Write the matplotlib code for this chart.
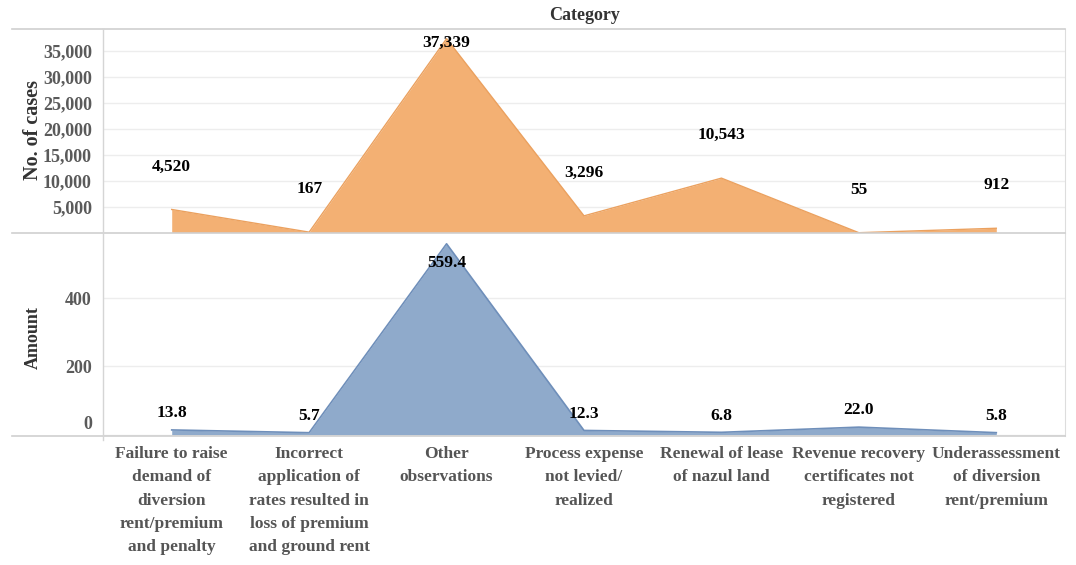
import numpy as np
import matplotlib.pyplot as plt
from matplotlib.lines import Line2D
from matplotlib.transforms import ScaledTranslation

# data
categories = [
    "Failure to raise\ndemand of\ndiversion\nrent/premium\nand penalty",
    "Incorrect\napplication of\nrates resulted in\nloss of premium\nand ground rent",
    "Other\nobservations",
    "Process expense\nnot levied/\nrealized",
    "Renewal of lease\nof nazul land",
    "Revenue recovery\ncertificates not\nregistered",
    "Underassessment\nof diversion\nrent/premium",
]
cases = [4520, 167, 37339, 3296, 10543, 55, 912]
amount = [13.8, 5.7, 559.4, 12.3, 6.8, 22.0, 5.8]
cases_ticks = [5000, 10000, 15000, 20000, 25000, 30000, 35000]
amount_ticks = [0, 200, 400]

orange = "#F3B073"
blue = "#8FAACB"
serif = "Liberation Serif"
W, H = 1076, 565

fig = plt.figure(figsize=(W / 100, H / 100), dpi=100)

def fx(px):
    return px / W

def fy(py):
    return 1 - py / H

left, right = fx(103), fx(1065)
ax1 = fig.add_axes([left, fy(233), right - left, fy(29) - fy(233)])
ax2 = fig.add_axes([left, fy(436), right - left, fy(233) - fy(436)])

x = np.arange(len(categories))

# top panel: No. of cases
ax1.fill_between(x, 0, cases, color=orange, lw=0, zorder=2)
ax1.plot(x, cases, color="#EBA15F", lw=1, zorder=3)
ax1.set_ylim(0, 39200)
ax1.set_yticks(cases_ticks)
ax1.set_yticklabels([f"{t:,}" for t in cases_ticks])
for xi, v in zip(x, cases):
    if v > 0.8 * ax1.get_ylim()[1]:
        off = -3
    else:
        off = 31
    ax1.annotate(f"{v:,}", (xi, v), xytext=(0, off), textcoords="offset points",
                 ha="center", va="center", fontsize=12.5, fontweight="bold",
                 family=serif, color="black", zorder=5, annotation_clip=False)

# bottom panel: Amount
ax2.fill_between(x, 0, amount, color=blue, lw=0, zorder=2)
ax2.plot(x, amount, color="#6F8FBA", lw=1.2, zorder=3)
ax2.set_ylim(-4, 591)
ax2.set_yticks(amount_ticks)
for xi, v in zip(x, amount):
    if v > 0.8 * ax2.get_ylim()[1]:
        off = -14
    else:
        off = 12
    ax2.annotate(f"{v:.1f}", (xi, v), xytext=(0, off), textcoords="offset points",
                 ha="center", va="center", fontsize=12.5, fontweight="bold",
                 family=serif, color="black", zorder=5)

for ax in (ax1, ax2):
    ax.set_xlim(-0.5, len(categories) - 0.5)
    ax.grid(axis="y", color="#EDEDED", lw=1, zorder=0)
    ax.set_axisbelow(True)
    for s in ax.spines.values():
        s.set_visible(False)
    ax.spines["right"].set_visible(True)
    ax.spines["right"].set_color("#DDDDDD")
    ax.tick_params(axis="y", length=0, pad=8, labelsize=13, labelcolor="#5A5A5A")
    for lab in ax.get_yticklabels():
        lab.set_family(serif)
        lab.set_fontweight("bold")
    ax.tick_params(axis="x", length=0)

# keep the 0 label inside the pane like the original
zero_lab = ax2.get_yticklabels()[0]
zero_lab.set_transform(zero_lab.get_transform() + ScaledTranslation(0, 9 / 72, fig.dpi_scale_trans))

ax1.set_xticks([])
ax2.set_xticks(x)
ax2.set_xticklabels(categories, fontsize=12.5, fontweight="bold", family=serif,
                    color="#555555", linespacing=1.62, va="top")
ax2.tick_params(axis="x", pad=7)

# frame lines (Tableau-style header and pane borders)
for py in (29, 233, 436):
    fig.add_artist(Line2D([fx(12), right], [fy(py), fy(py)], color="#CFCFCF", lw=1.2))
fig.add_artist(Line2D([left, left], [fy(29), fy(440)], color="#D5D5D5", lw=1))

fig.text(fx(585), fy(15), "Category", ha="center", va="center", fontsize=13,
         fontweight="bold", family=serif, color="#333333")
fig.text(fx(33), fy(130), "No. of cases", ha="center", va="center", rotation=90,
         fontsize=14.5, fontweight="bold", family=serif, color="#333333")
fig.text(fx(33), fy(338), "Amount", ha="center", va="center", rotation=90,
         fontsize=13, fontweight="bold", family=serif, color="#333333")

plt.savefig("out.png", dpi=100)
